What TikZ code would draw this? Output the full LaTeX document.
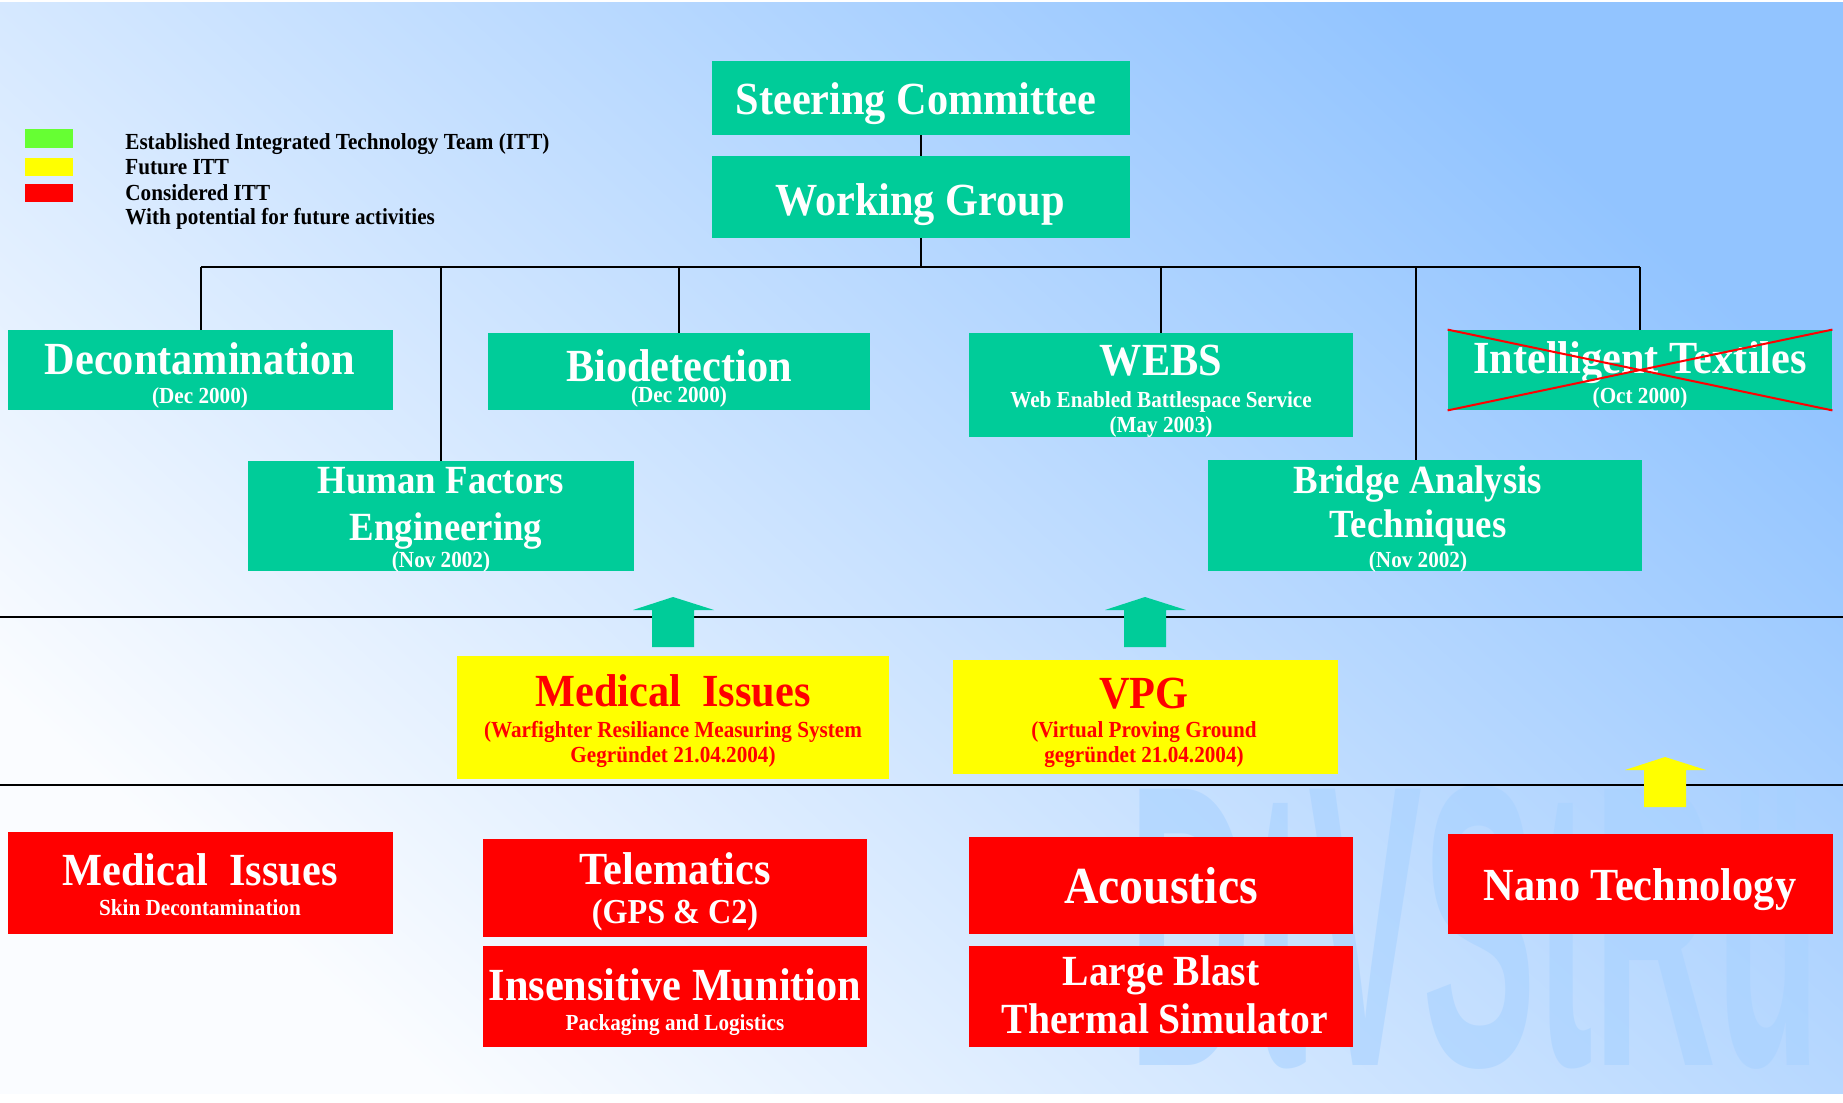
\documentclass[tikz,border=0pt]{standalone}
\usepackage{fontspec}
\setmainfont{Liberation Serif}[FakeStretch=0.92]
\setsansfont{Liberation Sans}
\usepackage{graphicx}
\usetikzlibrary{fit}
\definecolor{ittgreen}{HTML}{00CC99}
\definecolor{ittyellow}{HTML}{FFFF00}
\definecolor{ittred}{HTML}{FF0000}
\definecolor{legreen}{HTML}{66FF33}
\definecolor{bgblue}{HTML}{92C4FF}
\definecolor{bgwhite}{HTML}{FAFCFF}
\definecolor{wmblue}{HTML}{A8D2FF}
\tikzset{
    gbox/.style ={fill=ittgreen, inner sep=0pt},
    ybox/.style ={fill=ittyellow, inner sep=0pt},
    rbox/.style ={fill=ittred, inner sep=0pt},
    txt/.style ={anchor=base, inner sep=0pt, text=white, font=\fontsize{#1}{#1}\selectfont\bfseries},
    leg/.style ={anchor=base west, inner sep=0pt, font=\fontsize{11.5}{12}\selectfont\bfseries},
    conn/.style ={line width=1pt},
    sep/.style ={line width=1.3pt}}
% block arrow: centre x, bottom y, colour
\newcommand{\blockup}[3]{\fill[#3] (#1-21,#2) -- (#1-21,#2-37) -- (#1-40,#2-37) -- (#1,#2-50)
    -- (#1+41,#2-37) -- (#1+21,#2-37) -- (#1+21,#2) -- cycle;}
\begin{document}
\begin{tikzpicture}[x=0.5pt,y=-0.5pt]
        \useasboundingbox (0,0) rectangle (1843,1103);
        \fill[white] (0,0) rectangle (1843,1103);
        \begin{scope}[x=1pt,y=1pt]
            \shade[top color=bgblue, bottom color=bgwhite, shading angle=-42] (0,-1) rectangle (921.5,-546.5);
        \end{scope}
        \node[anchor=south west, inner sep=0pt, text=wmblue, opacity=0.6] (wm) at (1128,1070)
            {\resizebox{346pt}{140pt}{\sffamily\bfseries DtVStRü}};
        % separators
        \coordinate (s1w) at (0,617);  \coordinate (s1e) at (1843,617);
        \coordinate (s2w) at (0,785);  \coordinate (s2e) at (1843,785);
        \draw[sep] (s1w) -- (s1e);
        \draw[sep] (s2w) -- (s2e);
        % boxes
        \node[gbox, fit={(712,61)(1130,135)}] (sc) {};
        \node[gbox, fit={(712,156)(1130,238)}] (wg) {};
        \node[gbox, fit={(8,330)(393,410)}] (dec) {};
        \node[gbox, fit={(488,333)(870,410)}] (bio) {};
        \node[gbox, fit={(969,333)(1353,437)}] (webs) {};
        \node[gbox, fit={(1448,330)(1832,410)}] (itx) {};
        \node[gbox, fit={(248,461)(634,571)}] (hfe) {};
        \node[gbox, fit={(1208,460)(1642,571)}] (bat) {};
        \node[ybox, fit={(457,656)(889,779)}] (mis) {};
        \node[ybox, fit={(953,660)(1338,774)}] (vpg) {};
        \node[rbox, fit={(8,832)(393,934)}] (med) {};
        \node[rbox, fit={(483,839)(867,937)}] (tel) {};
        \node[rbox, fit={(483,946)(867,1047)}] (ins) {};
        \node[rbox, fit={(969,837)(1353,934)}] (aco) {};
        \node[rbox, fit={(969,946)(1353,1047)}] (lbt) {};
        \node[rbox, fit={(1448,834)(1833,934)}] (nano) {};
        % connectors
        \coordinate (busw) at (201,267);
        \coordinate (buse) at (1640,267);
        \draw[conn] (sc) -- (wg);
        \draw[conn] (wg.south) -- (wg.south |- busw);
        \draw[conn] (busw) -- (buse);
        \foreach \n in {dec,bio,webs,itx,hfe}
            \draw[conn] (\n.north) -- (\n.north |- busw);
        \draw[conn] ([xshift=-4.5pt]bat.north) -- ([xshift=-4.5pt]bat.north |- busw);
        % texts
        \node[txt=23] (sc-t) at (916,114) {Steering Committee};
        \node[txt=23] (wg-t) at (920,215) {Working Group};
        \node[txt=23] (dec-t) at (200,374) {Decontamination};
        \node[txt=11.5] (dec-d) at (200,403) {(Dec 2000)};
        \node[txt=23] (bio-t) at (679,381) {Biodetection};
        \node[txt=11.5] (bio-d) at (679,402) {(Dec 2000)};
        \node[txt=23] (webs-t) at (1161,375) {WEBS};
        \node[txt=11.5] (webs-s) at (1161,407) {Web Enabled Battlespace Service};
        \node[txt=11.5] (webs-d) at (1161,432) {(May 2003)};
        \node[txt=23] (itx-t) at (1640,373) {Intelligent Textiles};
        \node[txt=11.5] (itx-d) at (1640,403) {(Oct 2000)};
        \node[txt=20] (hfe-t) at (441,493) {Human Factors};
        \node[txt=20] (hfe-u) at (446,540) {Engineering};
        \node[txt=11.5] (hfe-d) at (441,567) {(Nov 2002)};
        \node[txt=20] (bat-t) at (1418,493) {Bridge Analysis};
        \node[txt=20] (bat-u) at (1418,537) {Techniques};
        \node[txt=11.5] (bat-d) at (1418,567) {(Nov 2002)};
        \node[txt=23, text=ittred] (mis-t) at (673,706) {Medical\ \ Issues};
        \node[txt=11.5, text=ittred] (mis-s) at (673,737) {(Warfighter Resiliance Measuring System};
        \node[txt=11.5, text=ittred] (mis-d) at (673,762) {Gegründet 21.04.2004)};
        \node[txt=23, text=ittred] (vpg-t) at (1144,708) {VPG};
        \node[txt=11.5, text=ittred] (vpg-s) at (1144,737) {(Virtual Proving Ground};
        \node[txt=11.5, text=ittred] (vpg-d) at (1144,762) {gegründet 21.04.2004)};
        \node[txt=23] (med-t) at (200,885) {Medical\ \ Issues};
        \node[txt=11.5] (med-s) at (200,915) {Skin Decontamination};
        \node[txt=23] (tel-t) at (675,884) {Telematics};
        \node[txt=17.5] (tel-s) at (675,923) {(GPS \& C2)};
        \node[txt=23] (ins-t) at (675,1000) {Insensitive Munition};
        \node[txt=11.5] (ins-s) at (675,1030) {Packaging and Logistics};
        \node[txt=26] (aco-t) at (1161,903) {Acoustics};
        \node[txt=21.5] (lbt-t) at (1161,985) {Large Blast};
        \node[txt=21.5] (lbt-u) at (1165,1033) {Thermal Simulator};
        \node[txt=23] (nano-t) at (1640,900) {Nano Technology};
        % crossed out
        \draw[ittred, line width=1pt] (itx.north west) -- (itx.south east);
        \draw[ittred, line width=1pt] (itx.south west) -- (itx.north east);
        % arrows
        \blockup{673}{647}{ittgreen}
        \blockup{1145}{647}{ittgreen}
        \blockup{1665}{807}{ittyellow}
        % legend
        \node[fill=legreen, inner sep=0pt, fit={(25,129)(73,148)}] (lg-g) {};
        \node[fill=ittyellow, inner sep=0pt, fit={(25,158)(73,176)}] (lg-y) {};
        \node[fill=ittred, inner sep=0pt, fit={(25,184)(73,202)}] (lg-r) {};
        \node[leg] (lg-1) at (125,149) {Established Integrated Technology Team (ITT)};
        \node[leg] (lg-2) at (125,174) {Future ITT};
        \node[leg] (lg-3) at (125,200) {Considered ITT};
        \node[leg] (lg-4) at (125,224) {With potential for future activities};
    \end{tikzpicture}
\end{document}
